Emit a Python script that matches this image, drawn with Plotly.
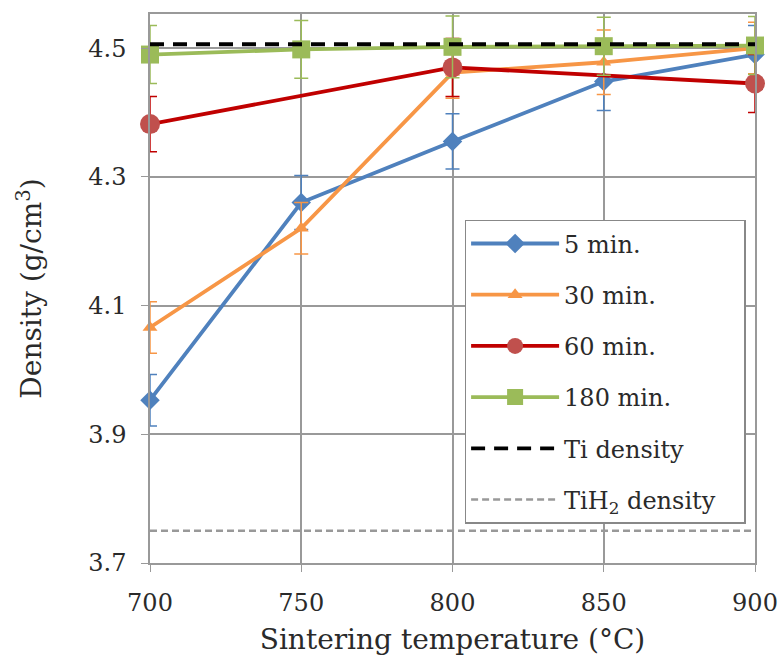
import plotly.graph_objects as go

temps = [700, 750, 800, 850, 900]
d5 = [3.953, 4.260, 4.355, 4.448, 4.490]
e5 = [0.040, 0.042, 0.043, 0.045, 0.045]
d30 = [4.066, 4.220, 4.462, 4.478, 4.500]
e30 = [0.040, 0.040, 0.040, 0.050, 0.040]
temps60 = [700, 800, 900]
d60 = [4.382, 4.470, 4.445]
e60 = [0.043, 0.045, 0.045]
d180 = [4.490, 4.498, 4.502, 4.503, 4.504]
e180 = [0.045, 0.045, 0.048, 0.045, 0.045]
ti_density = 4.506
tih2_density = 3.750

FONT = "DejaVu Serif, serif"

series = [
    ("5 min.", temps, d5, e5, "#4F81BD", "#4F81BD", "diamond", 15),
    ("30 min.", temps, d30, e30, "#F79646", "#F79646", "triangle-up", 13),
    ("60 min.", temps60, d60, e60, "#C00000", "#C0504D", "circle", 20),
    ("180 min.", temps, d180, e180, "#9BBB59", "#9BBB59", "square", 18),
]

fig = go.Figure()
for i, (name, xs, ys, es, lc, mc, sym, sz) in enumerate(series):
    fig.add_trace(go.Scatter(
        x=xs, y=ys, name=name, mode="lines+markers", legendgroup=f"g{i}",
        cliponaxis=False,
        line=dict(color=lc, width=3.8),
        marker=dict(symbol=sym, size=sz, color=mc, line=dict(width=0)),
        error_y=dict(type="data", array=es, visible=True, color=lc, thickness=1.5, width=7),
    ))

fig.add_trace(go.Scatter(
    x=[temps[0], temps[-1]], y=[ti_density, ti_density], name="Ti density",
    mode="lines", legendgroup="g4", line=dict(color="black", width=3.8, dash="14px,9px")))
fig.add_trace(go.Scatter(
    x=[temps[0], temps[-1]], y=[tih2_density, tih2_density],
    name="TiH<sub>2</sub> density\u00a0\u00a0\u00a0",
    mode="lines", legendgroup="g5", line=dict(color="#999999", width=2.5, dash="7px,4px")))

fig.update_layout(
    width=781, height=661,
    margin=dict(l=150, r=26, t=14, b=98),
    plot_bgcolor="white", paper_bgcolor="white",
    font=dict(family=FONT, size=23, color="#2a2a2a"),
    showlegend=True,
    legend=dict(x=0.52, y=0.625, xanchor="left", yanchor="top",
                bordercolor="#888", borderwidth=1.5, bgcolor="white",
                tracegroupgap=17, itemwidth=88, font=dict(size=24)),
    xaxis=dict(range=[700, 900], tickvals=temps, showgrid=True, gridcolor="#999",
               gridwidth=1.5, showline=True, linecolor="#999", linewidth=1.5, mirror=True,
               ticks="outside", ticklen=7, tickcolor="#999", zeroline=False,
               ticklabelstandoff=10, tickfont=dict(size=24), automargin=False,
               title=dict(text="Sintering temperature (°C)", standoff=14)),
    yaxis=dict(range=[3.7, 4.553], tickvals=[3.7, 3.9, 4.1, 4.3, 4.5], tickformat=".1f",
               showgrid=True, gridcolor="#999", gridwidth=1.5, showline=True,
               linecolor="#999", linewidth=1.5, mirror=True, ticks="outside", ticklen=7,
               tickcolor="#999", zeroline=False, ticklabelstandoff=10, tickfont=dict(size=24),
               automargin=False,
               title=dict(text="Density (g/cm<sup>3</sup>)", standoff=38)),
)

fig.write_html("out.html")
